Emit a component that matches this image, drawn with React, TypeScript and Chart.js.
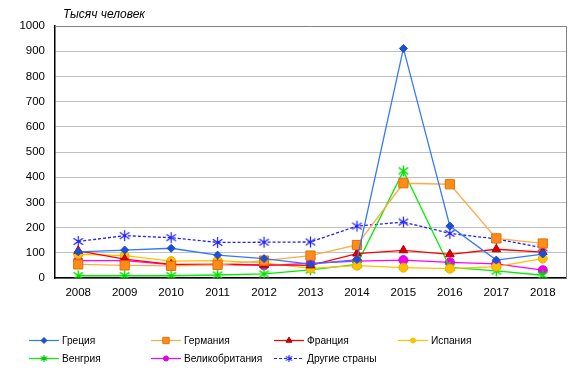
import React, { useEffect, useRef } from "react";
import { Chart, registerables } from "chart.js";
import { drawPoint } from "chart.js/helpers";

Chart.register(...registerables);

const years = ["2008", "2009", "2010", "2011", "2012", "2013", "2014", "2015", "2016", "2017", "2018"];
const greece = [104, 111, 118, 91, 77, 55, 73, 911, 206, 71, 95];
const germany = [54, 50, 48, 52, 69, 89, 131, 376, 372, 157, 137];
const france = [108, 75, 54, 54, 52, 50, 97, 110, 94, 114, 103];
const spain = [94, 89, 67, 69, 60, 38, 49, 41, 37, 45, 77];
const hungary = [9, 9, 9, 12, 16, 32, 54, 425, 42, 28, 11];
const britain = [69, 69, 53, 54, 50, 58, 67, 71, 62, 56, 31];
const others = [145, 168, 160, 141, 142, 143, 206, 222, 177, 155, 120];
const yTicks = [0, 100, 200, 300, 400, 500, 600, 700, 800, 900, 1000];
const yTitle = "Тысяч человек";

function asterisk(color: string, size: number, lw: number) {
  const c = document.createElement("canvas");
  c.width = size;
  c.height = size;
  const ctx = c.getContext("2d")!;
  const h = size / 2;
  const r = h - 1;
  ctx.strokeStyle = color;
  ctx.lineWidth = lw;
  ctx.beginPath();
  ctx.moveTo(h, h - r);
  ctx.lineTo(h, h + r);
  ctx.moveTo(h - r * 0.87, h - r * 0.6);
  ctx.lineTo(h + r * 0.87, h + r * 0.6);
  ctx.moveTo(h + r * 0.87, h - r * 0.6);
  ctx.lineTo(h - r * 0.87, h + r * 0.6);
  ctx.stroke();
  return c;
}

export default function App() {
  const ref = useRef<HTMLCanvasElement>(null);
  useEffect(() => {
    document.body.style.margin = "0";
    const font = "'Liberation Sans', Arial, sans-serif";
    const greenStar = asterisk("#00e000", 13, 1.4);
    const blueStar = asterisk("#2020ff", 13, 1.2);
    const greenStarS = asterisk("#00c000", 9, 1.2);
    const blueStarS = asterisk("#2020ff", 9, 1.1);

    const legendStyles: any[] = [
      { style: "rectRot", r: 3, fill: "#1a4fd6", stroke: "#1a4fd6" },
      { style: "rect", r: 4.5, fill: "#ff8c1a", stroke: "#e07000" },
      { style: "triangle", r: 3.5, fill: "#c00000", stroke: "#c00000" },
      { style: "circle", r: 2.5, fill: "#ffc000", stroke: "#ffc000" },
      { style: greenStarS, r: 4, fill: "#00c000", stroke: "#00c000" },
      { style: "circle", r: 2.5, fill: "#e000e0", stroke: "#e000e0" },
      { style: blueStarS, r: 4, fill: "#2020ff", stroke: "#2020ff" },
    ];

    const extras = {
      id: "extras",
      afterDraw(chart: any) {
        const ctx = chart.ctx;
        const a = chart.chartArea;
        ctx.save();
        ctx.strokeStyle = "#808080";
        ctx.lineWidth = 1;
        ctx.beginPath();
        ctx.moveTo(a.left, Math.round(a.top) + 0.5);
        ctx.lineTo(Math.round(a.right) + 0.5, Math.round(a.top) + 0.5);
        ctx.lineTo(Math.round(a.right) + 0.5, a.bottom);
        ctx.stroke();
        ctx.fillStyle = "#000";
        ctx.font = `italic 12px ${font}`;
        ctx.textBaseline = "middle";
        ctx.textAlign = "left";
        ctx.fillText(yTitle, 63, 15);
        const cols = [29, 151, 274, 398];
        const rows = [340, 358];
        ctx.font = `10.2px ${font}`;
        chart.data.datasets.forEach((ds: any, i: number) => {
          const x = cols[i % 4];
          const y = rows[Math.floor(i / 4)];
          ctx.strokeStyle = ds.borderColor;
          ctx.lineWidth = 1.2;
          ctx.setLineDash(ds.borderDash && ds.borderDash.length ? [3, 2] : []);
          ctx.beginPath();
          ctx.moveTo(x, y + 0.5);
          ctx.lineTo(x + 30, y + 0.5);
          ctx.stroke();
          ctx.setLineDash([]);
          const ls = legendStyles[i];
          ctx.fillStyle = ls.fill;
          ctx.strokeStyle = ls.stroke;
          ctx.lineWidth = 1;
          drawPoint(ctx, { pointStyle: ls.style, radius: ls.r, borderWidth: 1, rotation: 0 }, x + 15, y + 0.5);
          ctx.fillStyle = "#000";
          ctx.fillText(ds.label, x + 33, y + 1);
        });
        ctx.restore();
      },
    };

    const mk = (label: string, data: number[], color: string, mFill: string, mStroke: string, style: any, r: number, dash: number[] = []) => ({
      label,
      data,
      borderColor: color,
      borderWidth: 1.3,
      borderDash: dash,
      pointStyle: style,
      pointRadius: r,
      pointBackgroundColor: mFill,
      pointBorderColor: mStroke,
      pointBorderWidth: 1,
      tension: 0,
      fill: false,
    });

    const chart = new Chart(ref.current!, {
      type: "line",
      data: {
        labels: years,
        datasets: [
          mk("Греция", greece, "#3377ff", "#1a4fd6", "#1a4fd6", "rectRot", 4),
          mk("Германия", germany, "#ffaa44", "#ff8c1a", "#e07000", "rect", 6.5),
          mk("Франция", france, "#ff0000", "#dd0000", "#b00000", "triangle", 5),
          mk("Испания", spain, "#ffc000", "#ffc000", "#f0a800", "circle", 4.5),
          mk("Венгрия", hungary, "#00ee00", "#00e000", "#00e000", greenStar, 6),
          mk("Великобритания", britain, "#ff00ff", "#ee00ee", "#cc00cc", "circle", 4.5),
          mk("Другие страны", others, "#2020ff", "#2020ff", "#2020ff", blueStar, 6, [3, 2]),
        ],
      },
      options: {
        animation: false,
        responsive: false,
        events: [],
        layout: { padding: { left: 0, top: 26, right: 13, bottom: 76 } },
        plugins: { legend: { display: false }, tooltip: { enabled: false } },
        scales: {
          x: {
            offset: true,
            grid: { display: false, drawTicks: false },
            border: { color: "#000", width: 1.5 },
            ticks: { color: "#000", font: { family: font, size: 11.5 }, padding: 8, maxRotation: 0 },
            afterFit: (s: any) => { s.height = 20; },
          },
          y: {
            min: 0,
            max: 1000,
            afterBuildTicks: (s: any) => { s.ticks = yTicks.map((v) => ({ value: v })); },
            grid: {
              drawTicks: false,
              color: (c: any) => (c.tick && c.tick.value === 1000 ? "rgba(0,0,0,0)" : "#c0c0c0"),
            },
            border: { color: "#000", width: 1.5 },
            ticks: { color: "#000", font: { family: font, size: 11.5 }, padding: 10, callback: (v: any) => String(v) },
            afterFit: (s: any) => { s.width = 55; },
          },
        },
      },
      plugins: [extras],
    });
    return () => chart.destroy();
  }, []);
  return <canvas ref={ref} width={579} height={374} style={{ display: "block" }} />;
}
